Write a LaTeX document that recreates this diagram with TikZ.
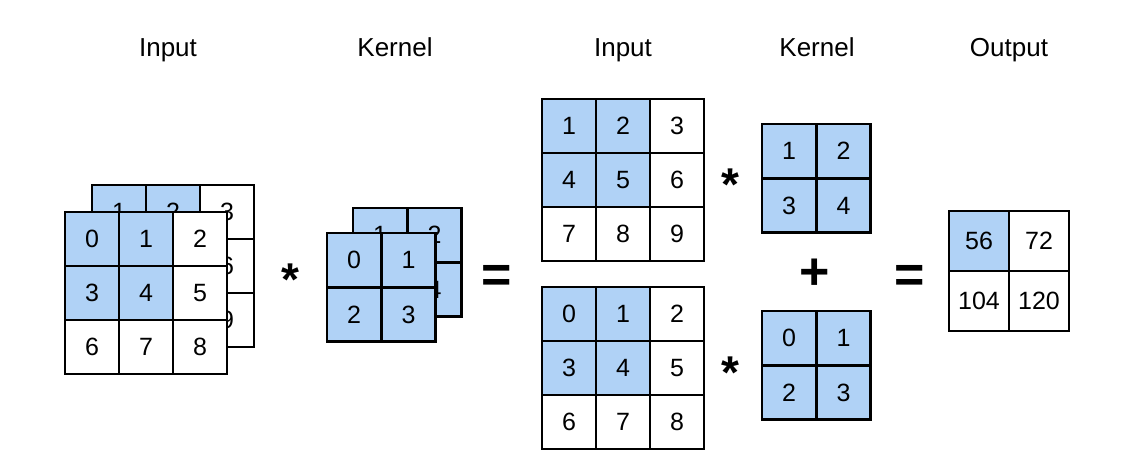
\documentclass[tikz,border=0pt]{standalone}
\usepackage{fontspec}
\setmainfont{Liberation Sans}
\definecolor{hlblue}{RGB}{176,210,246}
\tikzset{
  cell/.style={draw=black, line width=2.8pt, minimum size=#1, inner sep=0pt,
    font=\fontsize{25}{25}\selectfont, anchor=center},
  cell/.default=54pt,
  title/.style={font=\fontsize{26}{26}\selectfont, anchor=base},
  op/.style={font=\fontsize{46}{46}\selectfont\bfseries, anchor=base},
  bop/.style={font=\fontsize{52}{52}\selectfont\bfseries, anchor=base},
}
% 3x3 grid: name, left x, top y, entries; top-left 2x2 highlighted
\newcommand\gridthree[4]{%
  \foreach \t [count=\k from 0] in {#4} {
    \pgfmathtruncatemacro\cc{mod(\k,3)}
    \pgfmathtruncatemacro\rr{div(\k,3)}
    \def\ff{white}
    \ifnum\cc<2 \ifnum\rr<2 \def\ff{hlblue}\fi\fi
    \node[cell, fill=\ff] (#1-\k) at ({#2+27+54*\cc},{#3+27+54*\rr}) {\t};
  }}
% 2x2 kernel grid: name, left x, top y, entries; all highlighted
\newcommand\gridtwo[4]{%
  \foreach \t [count=\k from 0] in {#4} {
    \pgfmathtruncatemacro\cc{mod(\k,2)}
    \pgfmathtruncatemacro\rr{div(\k,2)}
    \node[cell, fill=hlblue] (#1-\k) at ({#2+27+54.5*\cc},{#3+27+54.5*\rr}) {\t};
  }}
\begin{document}
\begin{tikzpicture}[x=1pt,y=-1pt]
\useasboundingbox (0,0) rectangle (1132,476);
% titles
\node[title] (t1) at (168,57) {Input};
\node[title] (t2) at (395,57) {Kernel};
\node[title] (t3) at (623,57) {Input};
\node[title] (t4) at (817,57) {Kernel};
\node[title] (t5) at (1009,57) {Output};
% left stacked input
\gridthree{inB}{92}{185}{1,2,3,4,5,6,7,8,9}
\gridthree{inF}{65}{212}{0,1,2,3,4,5,6,7,8}
% stacked kernel
\gridtwo{kB}{353}{208}{1,2,3,4}
\gridtwo{kF}{327}{233}{0,1,2,3}
% right: split inputs
\gridthree{inT}{542}{99}{1,2,3,4,5,6,7,8,9}
\gridthree{inU}{542}{287}{0,1,2,3,4,5,6,7,8}
\gridtwo{kT}{762}{124}{1,2,3,4}
\gridtwo{kU}{762}{311}{0,1,2,3}
% output
\foreach \t/\f [count=\k from 0] in {56/hlblue,72/white,104/white,120/white} {
  \pgfmathtruncatemacro\cc{mod(\k,2)}
  \pgfmathtruncatemacro\rr{div(\k,2)}
  \node[cell=60pt, fill=\f] (out-\k) at ({949+30+60*\cc},{211+30+60*\rr}) {\t};
}
% operators
\node[op] (s1) at (290,295) {*};
\node[op] (s2) at (730,200) {*};
\node[op] (s3) at (730,388) {*};
\node[bop] (e1) at (497,292) {=};
\node[bop] (e2) at (910,292) {=};
\node[bop] (p1) at (815,289) {+};
\end{tikzpicture}
\end{document}
